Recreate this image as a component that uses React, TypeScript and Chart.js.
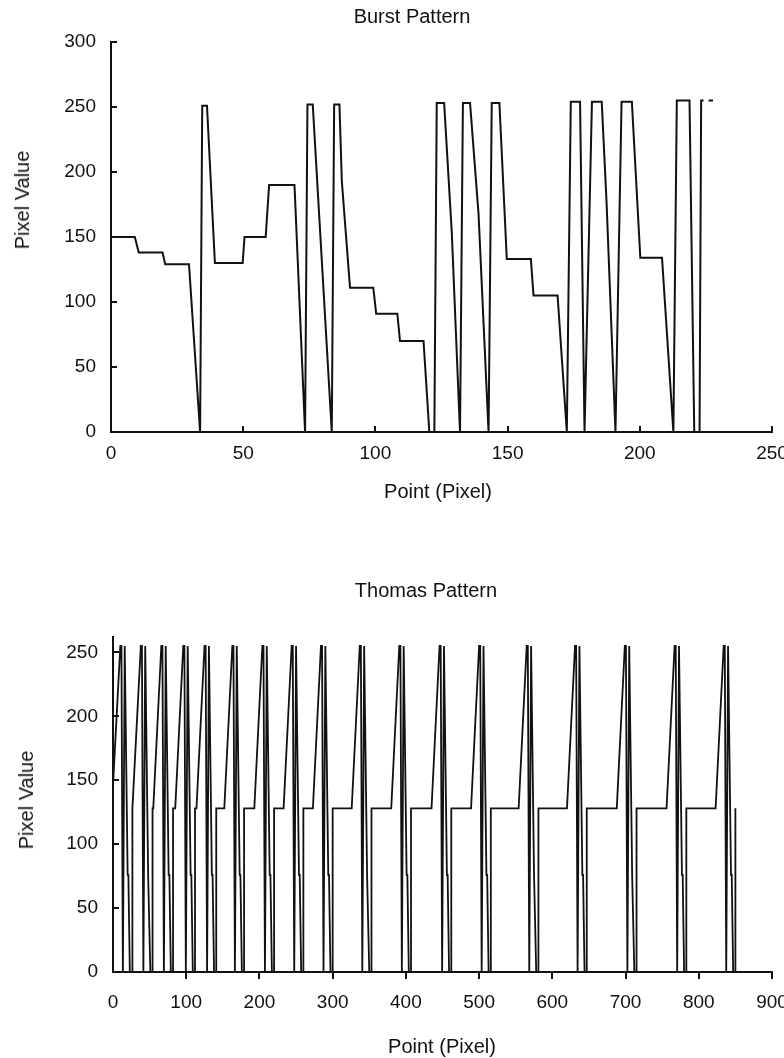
import React, { useEffect, useRef } from "react";
import { Chart, registerables } from "chart.js";

Chart.register(...registerables);

const FONT = '"Liberation Sans", Arial, Helvetica, sans-serif';
const INK = "#111111";

// ---------------- Burst Pattern ----------------
const burstX = [
  0, 9, 10.5, 19.5, 20.5, 29.5, 33.7,
  34.5, 36.3, 39.3, 49.8, 50.5, 58.5, 59.8, 69.4, 73.4,
  74.3, 76.3, 83.5,
  84.4, 86.4, 87.3, 90.4, 99.2, 100.3, 108.3, 109.3, 118.2, 120.4, 122.3,
  123.2, 126, 128.9, 132,
  133.1, 135.8, 139, 142.8,
  144, 146.9, 149.7, 158.8, 159.8,
  168.9, 172.4,
  173.9, 177.4, 179.1,
  181.9, 185.6, 187.4, 190.8,
  193.1, 197, 200.2, 208.4, 212.7,
  214, 218.8, 220.6, 222.6,
  223.2, 224.1, 224.6, 226, 227.7,
];
const burstY = [
  150, 150, 138, 138, 129, 129, 0,
  251, 251, 130, 130, 150, 150, 190, 190, 0,
  252, 252, 0,
  252, 252, 193, 111, 111, 91, 91, 70, 70, 0, 0,
  253, 253, 153, 0,
  253, 253, 168, 0,
  253, 253, 133, 133, 105,
  105, 0,
  254, 254, 0,
  254, 254, 178, 0,
  254, 254, 134, 134, 0,
  255, 255, 0, 0,
  255, 255, null, 255, 255,
];
const burstXTicks = [0, 50, 100, 150, 200, 250];
const burstYTicks = [0, 50, 100, 150, 200, 250, 300];

// ---------------- Thomas Pattern ----------------
const thomasX = [
  0,
  10, 11.5, 13.5, 16, 20, 21, 23, 26, 26, 27,
  38, 39.5, 41.5, 44, 48, 49, 51, 54, 54, 55,
  66, 67.5, 69.5, 72, 76, 77, 79, 82, 82, 85,
  96, 97.5, 99.5, 102, 106, 107, 109, 112, 112, 114,
  125, 126.5, 128.5, 131, 135, 136, 138, 141, 141, 152,
  163, 164.5, 166.5, 169, 173, 174, 176, 179, 179, 193,
  204, 205.5, 207.5, 210, 214, 215, 217, 220, 220, 233,
  244, 245.5, 247.5, 250, 254, 255, 257, 260, 260, 273,
  284, 285.5, 287.5, 290, 294, 295, 297, 300, 300, 326,
  337, 338.5, 340.5, 343, 347, 348, 350, 353, 353, 380,
  391, 392.5, 394.5, 397, 401, 402, 404, 407, 407, 435,
  446, 447.5, 449.5, 452, 456, 457, 459, 462, 462, 489,
  500, 501.5, 503.5, 506, 510, 511, 513, 516, 516, 554,
  565, 566.5, 568.5, 571, 575, 576, 578, 581, 581, 620,
  631, 632.5, 634.5, 637, 641, 642, 644, 647, 647, 688,
  699, 700.5, 702.5, 705, 709, 710, 712, 715, 715, 756,
  767, 768.5, 770.5, 773, 777, 778, 780, 783, 783, 823,
  834, 835.5, 837.5, 840, 844, 845, 847, 850, 850,
];
const thomasY = [
  146,
  255, 255, 0, 255, 76, 76, 0, 0, 128, 128,
  255, 255, 0, 255, 76, 76, 0, 0, 128, 128,
  255, 255, 0, 255, 76, 76, 0, 0, 128, 128,
  255, 255, 0, 255, 76, 76, 0, 0, 128, 128,
  255, 255, 0, 255, 76, 76, 0, 0, 128, 128,
  255, 255, 0, 255, 76, 76, 0, 0, 128, 128,
  255, 255, 0, 255, 76, 76, 0, 0, 128, 128,
  255, 255, 0, 255, 76, 76, 0, 0, 128, 128,
  255, 255, 0, 255, 76, 76, 0, 0, 128, 128,
  255, 255, 0, 255, 76, 76, 0, 0, 128, 128,
  255, 255, 0, 255, 76, 76, 0, 0, 128, 128,
  255, 255, 0, 255, 76, 76, 0, 0, 128, 128,
  255, 255, 0, 255, 76, 76, 0, 0, 128, 128,
  255, 255, 0, 255, 76, 76, 0, 0, 128, 128,
  255, 255, 0, 255, 76, 76, 0, 0, 128, 128,
  255, 255, 0, 255, 76, 76, 0, 0, 128, 128,
  255, 255, 0, 255, 76, 76, 0, 0, 128, 128,
  255, 255, 0, 255, 76, 76, 0, 0, 128,
];
const thomasXTicks = [0, 100, 200, 300, 400, 500, 600, 700, 800, 900];
const thomasYTicks = [0, 50, 100, 150, 200, 250];

// ---------------- helpers ----------------
const tickMarksPlugin = {
  id: "tickMarks",
  afterDraw(chart: any, _args: any, opts: any) {
    const { ctx, scales } = chart;
    const xs = scales.x;
    const ys = scales.y;
    ctx.save();
    ctx.strokeStyle = INK;
    ctx.lineWidth = opts.lineWidth || 2;
    ctx.beginPath();
    xs.ticks.forEach((t: any) => {
      if (t.value === xs.min) return;
      const px = Math.round(xs.getPixelForValue(t.value));
      ctx.moveTo(px, ys.bottom);
      ctx.lineTo(px, ys.bottom + opts.xLen);
    });
    ys.ticks.forEach((t: any) => {
      if (t.value === ys.min) return;
      const py = Math.round(ys.getPixelForValue(t.value));
      ctx.moveTo(xs.left, py);
      ctx.lineTo(xs.left + opts.yLen, py);
    });
    ctx.stroke();
    ctx.restore();
  },
};

type PanelProps = {
  top: number;
  height: number;
  xs: number[];
  ys: (number | null)[];
  xMax: number;
  yMax: number;
  xTicks: number[];
  yTicks: number[];
  padTop: number;
  axisLeft: number;
  xAxisHeight: number;
  xLabelPad: number;
  lineWidth: number;
  xTickLen: number;
};

function Panel(p: PanelProps) {
  const ref = useRef<HTMLCanvasElement>(null);
  useEffect(() => {
    const points = p.xs.map((x, i) => ({ x, y: p.ys[i] }));
    const chart = new Chart(ref.current as HTMLCanvasElement, {
      type: "line",
      data: {
        datasets: [
          {
            data: points as any,
            borderColor: INK,
            borderWidth: p.lineWidth,
            pointRadius: 0,
            fill: false,
            tension: 0,
            spanGaps: false,
            borderJoinStyle: "miter",
          },
        ],
      },
      plugins: [tickMarksPlugin as any],
      options: {
        responsive: false,
        animation: false,
        events: [],
        layout: { padding: { top: p.padTop, right: 12, left: 0, bottom: 0 } },
        plugins: {
          legend: { display: false },
          tooltip: { enabled: false },
          title: { display: false },
          tickMarks: { xLen: p.xTickLen, yLen: 6, lineWidth: 2 },
        } as any,
        scales: {
          x: {
            type: "linear",
            min: 0,
            max: p.xMax,
            afterBuildTicks: (s: any) => {
              s.ticks = p.xTicks.map((v) => ({ value: v }));
            },
            afterFit: (s: any) => {
              s.height = p.xAxisHeight;
              s.paddingLeft = 0;
              s.paddingRight = 0;
            },
            grid: { display: false, drawTicks: false },
            border: { display: true, color: INK, width: 2 },
            ticks: {
              color: INK,
              font: { family: FONT, size: 19 },
              padding: p.xLabelPad,
              maxRotation: 0,
              autoSkip: false,
            },
          },
          y: {
            type: "linear",
            min: 0,
            max: p.yMax,
            afterBuildTicks: (s: any) => {
              s.ticks = p.yTicks.map((v) => ({ value: v }));
            },
            afterFit: (s: any) => {
              s.width = p.axisLeft;
              s.paddingTop = 0;
              s.paddingBottom = 0;
            },
            grid: { display: false, drawTicks: false },
            border: { display: true, color: INK, width: 2 },
            ticks: {
              color: INK,
              font: { family: FONT, size: 19 },
              padding: 15,
              autoSkip: false,
            },
          },
        },
      } as any,
    });
    return () => chart.destroy();
  }, []);
  return (
    <canvas
      ref={ref}
      width={784}
      height={p.height}
      style={{ position: "absolute", left: 0, top: p.top, width: 784, height: p.height }}
    />
  );
}

const textBase: React.CSSProperties = {
  position: "absolute",
  fontFamily: FONT,
  color: INK,
  whiteSpace: "nowrap",
  lineHeight: 1,
};

function Label(props: { text: string; x: number; y: number; size: number; rotate?: boolean }) {
  return (
    <div
      style={{
        ...textBase,
        left: props.x,
        top: props.y,
        fontSize: props.size,
        transform: `translate(-50%, -50%)${props.rotate ? " rotate(-90deg)" : ""}`,
      }}
    >
      {props.text}
    </div>
  );
}

export default function App() {
  return (
    <div
      style={{
        position: "absolute",
        left: 0,
        top: 0,
        width: 784,
        height: 1058,
        background: "#ffffff",
        overflow: "hidden",
      }}
    >
      <Panel
        top={0}
        height={520}
        xs={burstX}
        ys={burstY}
        xMax={250}
        yMax={300}
        xTicks={burstXTicks}
        yTicks={burstYTicks}
        padTop={42}
        axisLeft={111}
        xAxisHeight={88}
        xLabelPad={10}
        lineWidth={2}
        xTickLen={-6}
      />
      <Panel
        top={540}
        height={518}
        xs={thomasX}
        ys={thomasY}
        xMax={900}
        yMax={262}
        xTicks={thomasXTicks}
        yTicks={thomasYTicks}
        padTop={97}
        axisLeft={113}
        xAxisHeight={86}
        xLabelPad={19}
        lineWidth={1.8}
        xTickLen={7}
      />
      <Label text="Burst Pattern" x={412} y={16} size={20} />
      <Label text="Pixel Value" x={22} y={200} size={20} rotate />
      <Label text="Point (Pixel)" x={438} y={491} size={20} />
      <Label text="Thomas Pattern" x={426} y={590} size={20} />
      <Label text="Pixel Value" x={26} y={800} size={20} rotate />
      <Label text="Point (Pixel)" x={442} y={1046} size={20} />
    </div>
  );
}
